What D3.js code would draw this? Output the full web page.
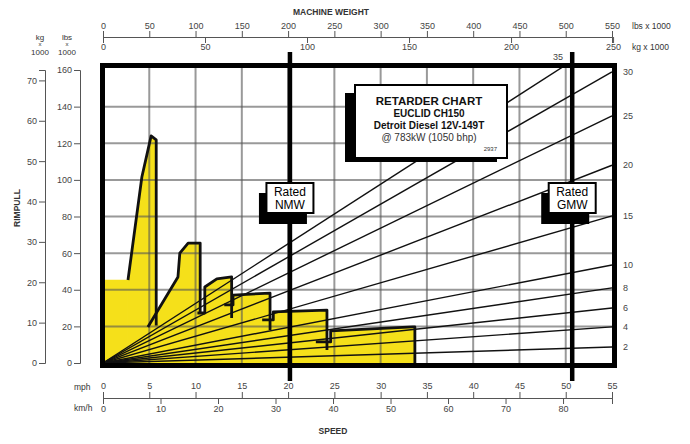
<!DOCTYPE html>
<html>
<head>
<meta charset="utf-8">
<script src="https://cdn.jsdelivr.net/npm/d3@7"></script>
<style>
  body { margin: 0; background: #fff; }
  text { font-family: "Liberation Sans", Arial, sans-serif; }
</style>
</head>
<body>
<script>
//-------------------------------------------Data---------------------------------------------//
var mphTicks = d3.range(0, 56, 5);
var kmhTicks = d3.range(0, 81, 10);
var lbsWeightTicks = d3.range(0, 551, 50);
var kgWeightTicks = d3.range(0, 251, 50);
var rimLbsTicks = d3.range(0, 161, 20);
var rimKgTicks = d3.range(0, 71, 10);

// effective grade (%) and the rimpull (lbs x 1000) each line reaches at 550,000 lbs
var grades = [2, 4, 6, 8, 10, 15, 20, 25, 30, 35];
var gradeRimpull = [8.7, 19.7, 30, 41, 53.5, 80.3, 108, 135, 159, 179];

// retarder curve, one list per gear: [speed mph, rimpull lbs x 1000]
var startBlock = [[0, 45.5], [2.7, 45.5]];
var gear1 = [[2.7, 45.3], [4.2, 101.6], [5.2, 124], [5.75, 121.8], [5.75, 20.5]];
var gear2 = [[4.85, 19.7], [8.1, 47], [8.3, 60], [9.2, 65.5], [10.5, 65.5], [10.5, 27.3]];
var gear3 = [[10.2, 27.3], [11.0, 27.3], [11.0, 41.5], [12.3, 45.9], [13.9, 47], [13.9, 24.6]];
var gear4 = [[13.1, 31.7], [14.05, 31.7], [14.05, 37.1], [18.05, 38.2], [18.05, 18]];
var gear5 = [[17.2, 23.5], [18.4, 23.5], [18.4, 27.9], [24.2, 28.9], [24.2, 7.1]];
var gear6 = [[23.0, 11.5], [24.6, 11.5], [24.6, 17.5], [33.5, 19.7], [33.7, 19.7], [33.7, 0]];
var gears = [gear1, gear2, gear3, gear4, gear5, gear6];

var ratedNMW = 202, ratedGMW = 507; // lbs x 1000
var titleLines = ["RETARDER CHART", "EUCLID CH150", "Detroit Diesel 12V-149T", "@ 783kW (1050 bhp)"];

//-------------------------------------------Scales---------------------------------------------//
var width = 690, height = 444;
var x0 = 103, x1 = 612, yBottom = 363, yTop = 70;

var x = d3.scaleLinear().domain([0, 55]).range([x0, x1]);
var xKmh = d3.scaleLinear().domain([0, 55 * 1.609344]).range([x0, x1]);
var xW = d3.scaleLinear().domain([0, 550]).range([x0, x1]);
var xKg = d3.scaleLinear().domain([0, 550 / 2.20462]).range([x0, x1]);
var y = d3.scaleLinear().domain([0, 160]).range([yBottom, yTop]);
var yKg = d3.scaleLinear().domain([0, 160 / 2.20462]).range([yBottom, yTop]);

var svg = d3.select("body").append("svg")
  .attr("width", width)
  .attr("height", height);

svg.append("defs").append("clipPath").attr("id", "plotClip")
  .append("rect")
  .attr("x", x0).attr("y", 67)
  .attr("width", x1 - x0 + 1).attr("height", yBottom - 67);

//-------------------------------------------Yellow area---------------------------------------------//
var area = d3.area()
  .x(function (d) { return x(d[0]); })
  .y0(y(0))
  .y1(function (d) { return y(d[1]); });

var fills = [startBlock].concat(gears);
svg.append("g").selectAll("path")
  .data(fills)
  .enter().append("path")
  .attr("d", area)
  .attr("fill", "#f5e01a");

//-------------------------------------------Grid---------------------------------------------//
var grid = svg.append("g").attr("stroke", "#555").attr("stroke-opacity", 0.6).attr("stroke-width", 2);
grid.selectAll("line.v")
  .data(mphTicks.filter(function (d) { return d > 0 && d < 55; }))
  .enter().append("line")
  .attr("x1", function (d) { return x(d); }).attr("x2", function (d) { return x(d); })
  .attr("y1", 66).attr("y2", yBottom);
grid.selectAll("line.h")
  .data(rimLbsTicks.filter(function (d) { return d > 0 && d < 160; }))
  .enter().append("line")
  .attr("x1", x0).attr("x2", x1)
  .attr("y1", function (d) { return y(d); }).attr("y2", function (d) { return y(d); });

//-------------------------------------------Retarder curves---------------------------------------------//
var line = d3.line()
  .x(function (d) { return x(d[0]); })
  .y(function (d) { return y(d[1]); });

svg.append("g").selectAll("path")
  .data(gears)
  .enter().append("path")
  .attr("d", line)
  .attr("fill", "none")
  .attr("stroke", "#111")
  .attr("stroke-width", 2.8)
  .attr("stroke-linejoin", "round");

//-------------------------------------------Grade lines---------------------------------------------//
svg.append("g").attr("clip-path", "url(#plotClip)")
  .selectAll("line")
  .data(gradeRimpull)
  .enter().append("line")
  .attr("x1", xW(0)).attr("y1", y(0))
  .attr("x2", xW(550)).attr("y2", function (d) { return y(d); })
  .attr("stroke", "#111")
  .attr("stroke-width", 1.4);

svg.append("g").selectAll("text")
  .data(grades)
  .enter().append("text")
  .attr("x", function (d, i) {
    var r = gradeRimpull[i];
    return r > 160 ? xW(550 * 160 / r) : 623;
  })
  .attr("y", function (d, i) {
    var r = gradeRimpull[i];
    return r > 160 ? 60 : y(r) + 3;
  })
  .attr("text-anchor", function (d, i) { return gradeRimpull[i] > 160 ? "middle" : "start"; })
  .attr("font-size", 9)
  .attr("fill", "#444")
  .text(function (d) { return d; });

//-------------------------------------------Rated weight lines---------------------------------------------//
var rated = [{ w: ratedNMW, name: "NMW" }, { w: ratedGMW, name: "GMW" }];

svg.append("g").selectAll("line")
  .data(rated)
  .enter().append("line")
  .attr("x1", function (d) { return xW(d.w); }).attr("x2", function (d) { return xW(d.w); })
  .attr("y1", 52).attr("y2", 381)
  .attr("stroke", "#000")
  .attr("stroke-width", 4.5);

var ratedBox = svg.append("g").selectAll("g")
  .data(rated)
  .enter().append("g")
  .attr("transform", function (d) { return "translate(" + xW(d.w) + ",198)"; });

ratedBox.append("rect")
  .attr("x", -31).attr("y", -5)
  .attr("width", 48).attr("height", 31)
  .attr("fill", "#000");
ratedBox.append("rect")
  .attr("x", -23.5).attr("y", -15)
  .attr("width", 47).attr("height", 30)
  .attr("fill", "#fff")
  .attr("stroke", "#000")
  .attr("stroke-width", 2);
ratedBox.append("text")
  .attr("y", -2)
  .attr("text-anchor", "middle")
  .attr("font-size", 12)
  .text("Rated");
ratedBox.append("text")
  .attr("y", 11)
  .attr("text-anchor", "middle")
  .attr("font-size", 12)
  .text(function (d) { return d.name; });

//-------------------------------------------Title box---------------------------------------------//
var tb = svg.append("g");
tb.append("rect").attr("x", 345).attr("y", 93).attr("width", 152).attr("height", 69).attr("fill", "#000");
tb.append("rect").attr("x", 355).attr("y", 85).attr("width", 152).attr("height", 73)
  .attr("fill", "#fff").attr("stroke", "#000").attr("stroke-width", 2);

var titleY = [105, 117, 129, 141];
var titleSize = [11.5, 10, 10, 10];
tb.selectAll("text.t")
  .data(titleLines)
  .enter().append("text")
  .attr("x", 429)
  .attr("y", function (d, i) { return titleY[i]; })
  .attr("text-anchor", "middle")
  .attr("font-size", function (d, i) { return titleSize[i]; })
  .attr("font-weight", function (d, i) { return i < 3 ? "bold" : "normal"; })
  .attr("fill", function (d, i) { return i < 3 ? "#111" : "#333"; })
  .text(function (d) { return d; });
tb.append("text").attr("x", 497).attr("y", 151).attr("text-anchor", "end")
  .attr("font-size", 6).attr("fill", "#333").text("2937");

//-------------------------------------------Frame---------------------------------------------//
svg.append("rect")
  .attr("x", 102.5).attr("y", 65.5)
  .attr("width", 512).attr("height", 300)
  .attr("fill", "none")
  .attr("stroke", "#000")
  .attr("stroke-width", 5);

//-------------------------------------------Axes---------------------------------------------//
function styleAxis(g) {
  g.attr("font-family", null).attr("font-size", null);
  g.selectAll("path, line").attr("stroke", "#555");
  g.selectAll("text").attr("font-size", 9).attr("fill", "#444");
}

svg.append("g").attr("transform", "translate(0,37)")
  .call(d3.axisTop(xW).tickValues(lbsWeightTicks).tickSize(6).tickPadding(2))
  .call(styleAxis);
svg.append("g").attr("transform", "translate(0,37)")
  .call(d3.axisBottom(xKg).tickValues(kgWeightTicks).tickSize(6).tickPadding(1))
  .call(styleAxis);

svg.append("g").attr("transform", "translate(0,398)")
  .call(d3.axisTop(x).tickValues(mphTicks).tickSize(6).tickPadding(3))
  .call(styleAxis);
svg.append("g").attr("transform", "translate(0,398)")
  .call(d3.axisBottom(xKmh).tickValues(kmhTicks).tickSize(6).tickPadding(2))
  .call(styleAxis);

svg.append("g").attr("transform", "translate(80,0)")
  .call(d3.axisLeft(y).tickValues(rimLbsTicks).tickSize(6).tickPadding(2))
  .call(styleAxis);
svg.append("g").attr("transform", "translate(45,0)")
  .call(d3.axisLeft(yKg).tickValues(rimKgTicks).tickSize(6).tickPadding(2))
  .call(styleAxis);

//-------------------------------------------Axis titles---------------------------------------------//
function label(tx, ty, str, size, weight, anchor) {
  svg.append("text")
    .attr("x", tx).attr("y", ty)
    .attr("font-size", size)
    .attr("font-weight", weight || "normal")
    .attr("text-anchor", anchor || "start")
    .attr("fill", "#333")
    .text(str);
}
label(331, 15, "MACHINE WEIGHT", 8.5, "bold", "middle");
label(333, 434, "SPEED", 8.5, "bold", "middle");
label(632, 29, "lbs x 1000", 8.5);
label(632, 50, "kg x 1000", 8.5);
label(74, 390, "mph", 8.5);
label(74, 411, "km/h", 8.5);

[["kg", 40], ["lbs", 67]].forEach(function (u) {
  label(u[1], 40, u[0], 8, "normal", "middle");
  label(u[1], 46, "x", 6, "normal", "middle");
  label(u[1], 55, "1000", 8, "normal", "middle");
});

svg.append("text")
  .attr("transform", "translate(20,208) rotate(-90)")
  .attr("text-anchor", "middle")
  .attr("font-size", 8.5)
  .attr("font-weight", "bold")
  .attr("fill", "#333")
  .text("RIMPULL");
</script>
</body>
</html>
